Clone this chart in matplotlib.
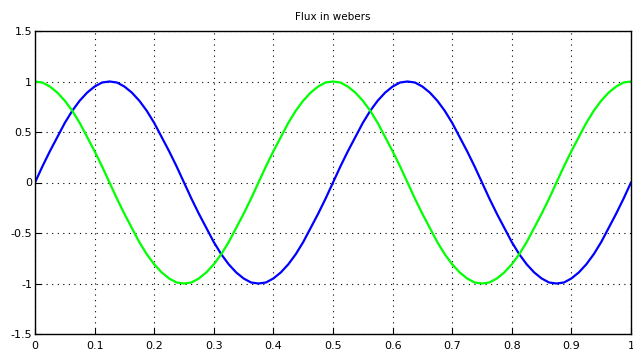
import numpy as np
import matplotlib.pyplot as plt

# samples, one every 0.0125 s
t = np.linspace(0, 1, 81)
flux_blue = [0, .16, .31, .45, .59, .71, .81, .89, .95, .99, 1, .99, .95, .89, .81, .71, .59, .45, .31, .16,
             0, -.16, -.31, -.45, -.59, -.71, -.81, -.89, -.95, -.99, -1, -.99, -.95, -.89, -.81, -.71, -.59, -.45, -.31, -.16,
             0, .16, .31, .45, .59, .71, .81, .89, .95, .99, 1, .99, .95, .89, .81, .71, .59, .45, .31, .16,
             0, -.16, -.31, -.45, -.59, -.71, -.81, -.89, -.95, -.99, -1, -.99, -.95, -.89, -.81, -.71, -.59, -.45, -.31, -.16,
             0]
flux_green = [1, .99, .95, .89, .81, .71, .59, .45, .31, .16, 0, -.16, -.31, -.45, -.59, -.71, -.81, -.89, -.95, -.99,
              -1, -.99, -.95, -.89, -.81, -.71, -.59, -.45, -.31, -.16, 0, .16, .31, .45, .59, .71, .81, .89, .95, .99,
              1, .99, .95, .89, .81, .71, .59, .45, .31, .16, 0, -.16, -.31, -.45, -.59, -.71, -.81, -.89, -.95, -.99,
              -1, -.99, -.95, -.89, -.81, -.71, -.59, -.45, -.31, -.16, 0, .16, .31, .45, .59, .71, .81, .89, .95, .99,
              1]
xticks = [0, 0.1, 0.2, 0.3, 0.4, 0.5, 0.6, 0.7, 0.8, 0.9, 1]
xlabels = ['0', '0.1', '0.2', '0.3', '0.4', '0.5', '0.6', '0.7', '0.8', '0.9', '1']
yticks = [-1.5, -1, -0.5, 0, 0.5, 1, 1.5]
ylabels = ['-1.5', '-1', '-0.5', '0', '0.5', '1', '1.5']

fig = plt.figure(figsize=(6.33, 3.5), dpi=100)
ax = fig.add_axes([35 / 633, 16 / 350, 596 / 633, 303 / 350])

ax.plot(t, flux_blue, color=(0, 0, 1), linewidth=1.6)
ax.plot(t, flux_green, color=(0, 1, 0), linewidth=1.6)

ax.set_xlim(0, 1)
ax.set_ylim(-1.5, 1.5)
ax.set_xticks(xticks)
ax.set_xticklabels(xlabels)
ax.set_yticks(yticks)
ax.set_yticklabels(ylabels)
ax.tick_params(direction='in', length=4, labelsize=8, pad=2)
ax.tick_params(axis='x', pad=5)
ax.grid(True, color='black', linestyle=(0, (1, 4)), linewidth=0.8)
for sp in ax.spines.values():
    sp.set_linewidth(1)
ax.set_title('Flux in webers', fontsize=7.5, pad=8)

fig.savefig('out.png', dpi=100)
